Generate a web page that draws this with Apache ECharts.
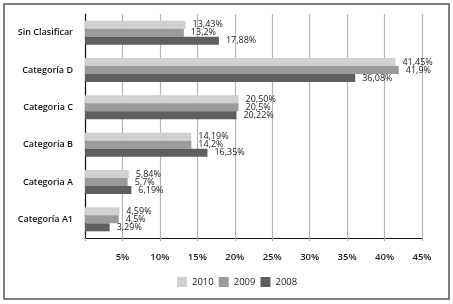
<!DOCTYPE html>
<html>
<head>
<meta charset="utf-8">
<script src="https://cdn.jsdelivr.net/npm/echarts@6/dist/echarts.min.js"></script>
<style>html,body{margin:0;padding:0;background:#fff}#c{width:453px;height:304px}</style>
</head>
<body>
<div id="c"></div>
<script>
const categories = ['Categoría A1', 'Categoria A', 'Categoria B', 'Categoria C', 'Categoría D', 'Sin Clasificar'];
const seriesNames = ['2010', '2009', '2008'];
const values2010 = [4.59, 5.84, 14.19, 20.50, 41.45, 13.43];
const values2009 = [4.5, 5.7, 14.2, 20.5, 41.9, 13.2];
const values2008 = [3.29, 6.19, 16.35, 20.22, 36.08, 17.88];
const labels2010 = ['4,59%', '5,84%', '14,19%', '20,50%', '41,45%', '13,43%'];
const labels2009 = ['4,5%', '5,7%', '14,2%', '20,5%', '41,9%', '13,2%'];
const labels2008 = ['3,29%', '6,19%', '16,35%', '20,22%', '36,08%', '17,88%'];
const xTicks = ['', '5%', '10%', '15%', '20%', '25%', '30%', '35%', '40%', '45%'];
const colors = ['#d0d0d0', '#9b9b9b', '#5e5e62'];

const chart = echarts.init(document.getElementById('c'));
const font = 'Open Sans';
function mk(name, vals, labs, color) {
  return {
    name: name, type: 'bar', data: vals,
    itemStyle: { color: color },
    barWidth: 8, barGap: '0%',
    label: {
      show: true, position: 'right', distance: 7,
      formatter: p => labs[p.dataIndex],
      fontFamily: font, fontSize: 9, color: '#222', lineHeight: 9
    }
  };
}
chart.setOption({
  animation: false,
  graphic: [{
    type: 'rect', shape: { x: 4, y: 4, width: 445, height: 295 },
    style: { fill: 'none', stroke: '#555', lineWidth: 1.5 }
  }],
  grid: { left: 85, right: 31, top: 14, bottom: 66, containLabel: false },
  legend: {
    data: seriesNames, bottom: 12, left: 172,
    itemWidth: 10, itemHeight: 10, itemGap: 5,
    icon: 'rect',
    textStyle: { fontFamily: font, fontSize: 9.5, color: '#222' }
  },
  xAxis: {
    type: 'value', min: 0, max: 45, interval: 5,
    axisLine: { show: true, lineStyle: { color: '#111', width: 1.2 } },
    axisTick: { show: true, length: 3, lineStyle: { color: '#aaa' } },
    splitLine: { show: true, lineStyle: { color: '#b5b5b5', width: 1.2 } },
    axisLabel: {
      formatter: v => xTicks[v / 5], margin: 14,
      fontFamily: font, fontSize: 9.5, fontWeight: 600, color: '#222'
    }
  },
  yAxis: {
    type: 'category', data: categories,
    axisLine: { show: true, lineStyle: { color: '#111', width: 1.2 } },
    axisTick: { show: false },
    axisLabel: { margin: 12, fontFamily: font, fontSize: 9, fontWeight: 600, color: '#111' }
  },
  series: [
    mk(seriesNames[0], values2010, labels2010, colors[0]),
    mk(seriesNames[1], values2009, labels2009, colors[1]),
    mk(seriesNames[2], values2008, labels2008, colors[2])
  ]
});
</script>
</body>
</html>
